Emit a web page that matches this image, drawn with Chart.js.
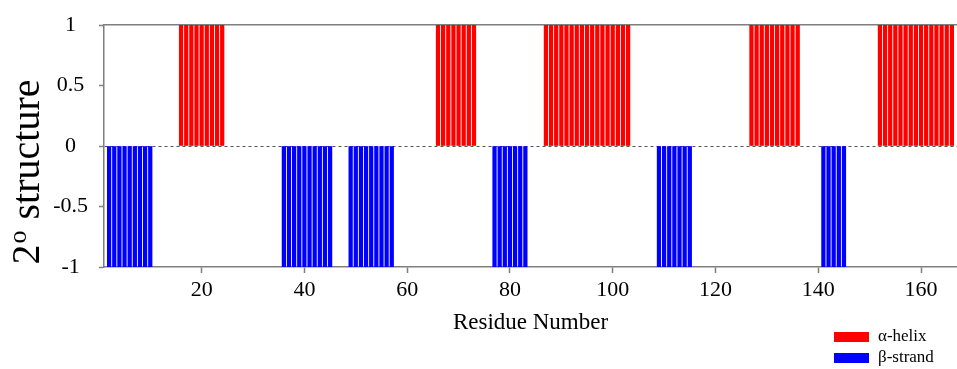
<!DOCTYPE html>
<html><head><meta charset="utf-8">
<script src="https://cdn.jsdelivr.net/npm/chart.js@4.4.1/dist/chart.umd.min.js"></script>
<style>html,body{margin:0;padding:0;background:#fff;}#wrap{width:957px;height:369px;}</style>
</head><body><div id="wrap"><canvas id="c" width="957" height="369"></canvas></div>
<script>
// ---- data ----
const helixResidues = [16,17,18,19,20,21,22,23,24,
  66,67,68,69,70,71,72,73,
  87,88,89,90,91,92,93,94,95,96,97,98,99,100,101,102,103,
  127,128,129,130,131,132,133,134,135,136,
  152,153,154,155,156,157,158,159,160,161,162,163,164,165,166];
const strandResidues = [2,3,4,5,6,7,8,9,10,
  36,37,38,39,40,41,42,43,44,45,
  49,50,51,52,53,54,55,56,57,
  77,78,79,80,81,82,83,
  109,110,111,112,113,114,115,
  141,142,143,144,145];
const helixValue = 1;
const strandValue = -1;
const seriesLabels = ['α-helix', 'β-strand'];
const seriesColors = ['#ff0000', '#0000ff'];
const xTickValues = [20,40,60,80,100,120,140,160];
const yTickValues = [-1,-0.5,0,0.5,1];
const yTickLabels = ['-1','-0.5','0','0.5','1'];
const xAxisTitle = 'Residue Number';
const yAxisTitleParts = ['2', 'o', 'structure'];
const xRange = [1, 167];
const yRange = [-1, 1];

const SERIF = '"Liberation Serif", "Times New Roman", serif';
const AXIS_GREY = '#7f7f7f';

const yTitlePlugin = {
  id: 'yTitle',
  afterDraw(chart) {
    const ctx = chart.ctx;
    ctx.save();
    ctx.fillStyle = '#000';
    ctx.textAlign = 'left';
    ctx.textBaseline = 'alphabetic';
    const big = '40px ' + SERIF, small = '26px ' + SERIF;
    ctx.font = big; const w2 = ctx.measureText(yAxisTitleParts[0]).width;
    ctx.font = small; const wo = ctx.measureText(yAxisTitleParts[1]).width;
    ctx.font = big; const ws = ctx.measureText(yAxisTitleParts[2]).width;
    const gap = 11;
    const total = w2 + 1 + wo + gap + ws;
    const cy = 172;
    ctx.translate(39, cy + total / 2);
    ctx.rotate(-Math.PI / 2);
    ctx.font = big; ctx.fillText(yAxisTitleParts[0], 0, 0);
    ctx.font = small; ctx.fillText(yAxisTitleParts[1], w2 + 1, -13);
    ctx.font = big; ctx.fillText(yAxisTitleParts[2], w2 + 1 + wo + gap, 0);
    ctx.restore();
  }
};

const legendPlugin = {
  id: 'boxLegend',
  afterDraw(chart) {
    const ctx = chart.ctx;
    ctx.save();
    chart.data.datasets.forEach((ds, i) => {
      const y = 332 + i * 21;
      ctx.fillStyle = ds.backgroundColor;
      ctx.fillRect(834, y, 35, 10);
      ctx.fillStyle = '#000';
      ctx.font = '17px ' + SERIF;
      ctx.textBaseline = 'middle';
      ctx.textAlign = 'left';
      ctx.fillText(ds.label, 878, y + 5);
    });
    ctx.restore();
  }
};

new Chart(document.getElementById('c'), {
  type: 'bar',
  data: {
    datasets: [
      { label: seriesLabels[0], data: helixResidues.map(r => ({x: r, y: helixValue})),
        backgroundColor: seriesColors[0], borderWidth: 0, barThickness: 3.6, grouped: false },
      { label: seriesLabels[1], data: strandResidues.map(r => ({x: r, y: strandValue})),
        backgroundColor: seriesColors[1], borderWidth: 0, barThickness: 3.6, grouped: false }
    ]
  },
  options: {
    responsive: false,
    animation: false,
    events: [],
    layout: { padding: { top: 25, right: 0, bottom: 0, left: 0 } },
    plugins: { legend: { display: false }, tooltip: { enabled: false } },
    scales: {
      x: {
        type: 'linear', position: 'bottom', min: xRange[0], max: xRange[1], offset: false,
        afterBuildTicks: s => { s.ticks = xTickValues.map(v => ({value: v})); },
        afterFit: s => { s.height = 102; },
        ticks: { color: '#000', font: { family: SERIF, size: 22 }, padding: 4, maxRotation: 0, autoSkip: false },
        grid: { offset: false, drawOnChartArea: false, drawTicks: true, tickLength: 6, tickColor: AXIS_GREY, tickWidth: 1.5, color: AXIS_GREY },
        border: { display: true, color: AXIS_GREY, width: 1.5 },
        title: { display: true, text: xAxisTitle, color: '#000', font: { family: SERIF, size: 23 }, padding: { top: 0, bottom: 32 } }
      },
      xTop: {
        type: 'linear', position: 'top', min: xRange[0], max: xRange[1], offset: false,
        afterFit: s => { s.height = 0; },
        ticks: { display: false },
        grid: { offset: false, display: true, drawOnChartArea: false, drawTicks: false, color: 'rgba(0,0,0,0)' },
        border: { display: true, color: AXIS_GREY, width: 1.5 }
      },
      y: {
        type: 'linear', min: yRange[0], max: yRange[1],
        afterBuildTicks: s => { s.ticks = yTickValues.map(v => ({value: v})); },
        afterFit: s => { s.width = 104; },
        ticks: { color: '#000', font: { family: SERIF, size: 22 }, padding: 11, crossAlign: 'center',
          callback: v => yTickLabels[yTickValues.indexOf(v)] },
        grid: { drawOnChartArea: true, drawTicks: true, tickLength: 5, tickWidth: 1.5, tickColor: AXIS_GREY,
          tickBorderDash: [], lineWidth: 1,
          color: ctx => (ctx.tick && ctx.tick.value === 0) ? '#555' : 'rgba(0,0,0,0)' },
        border: { display: true, color: AXIS_GREY, width: 1.5, dash: [3, 3] }
      }
    }
  },
  plugins: [yTitlePlugin, legendPlugin]
});
</script></body></html>
